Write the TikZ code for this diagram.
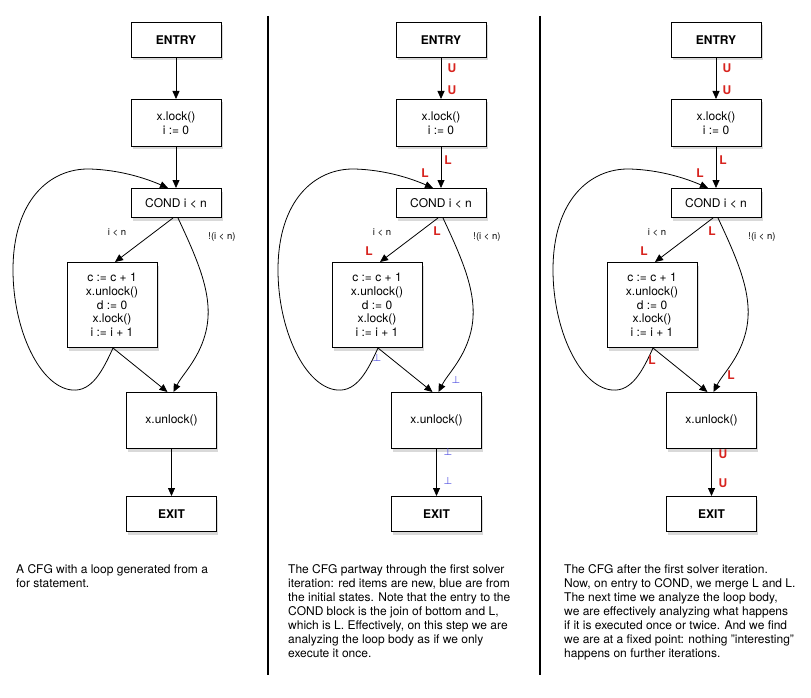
\documentclass[tikz,border=0pt]{standalone}
\usepackage{fontspec}
\setmainfont{TeX Gyre Heros}
\newfontfamily\symfont{DejaVu Sans}
\usetikzlibrary{arrows.meta,positioning,shadows}
\definecolor{labred}{RGB}{215,35,30}
\definecolor{labblue}{RGB}{80,80,225}

\begin{document}
\begin{tikzpicture}[
    x=1pt, y=1pt,
    box/.style={draw, line width=1pt, fill=white, align=center, minimum width=90pt, inner sep=2pt,
      font=\fontsize{12}{13.7}\selectfont,
      drop shadow={shadow xshift=1.5pt, shadow yshift=-3pt, opacity=0.3}},
    term/.style={box, font=\fontsize{12}{14}\selectfont\bfseries},
    line/.style={-{Triangle[length=8pt,width=7pt]}, line width=0.8pt},
    guard/.style={font=\fontsize{9.5}{10}\selectfont, inner sep=0pt},
    redlab/.style={text=labred, font=\fontsize{12}{12}\selectfont\bfseries, inner sep=0pt},
    bluelab/.style={text=labblue, font=\symfont\fontsize{10}{12}\selectfont, inner sep=0pt},
    captext/.style={align=left, anchor=north west, inner sep=0pt, font=\fontsize{12}{14}\selectfont}
]
\useasboundingbox (0,0) rectangle (811,-698);

% the same CFG in each of the three panels
\foreach \p/\dx in {a/0,b/265,c/540}{
\begin{scope}[xshift=\dx, name prefix=\p-]
\node[term, minimum height=35pt] (entry) at (176,-40) {ENTRY};
\node[box, minimum height=47pt, below=41pt of entry] (lock) {x.lock()\\i := 0};
\node[box, minimum height=29pt, below=41pt of lock] (cond) {COND i < n};
\node[box, minimum height=85pt, below=44pt of cond, xshift=-64pt] (body) {c := c + 1\\x.unlock()\\d := 0\\x.lock()\\i := i + 1};
\node[box, minimum height=56pt, below=44pt of body, xshift=59.5pt] (unlock) {x.unlock()};
\node[term, minimum height=35pt, below=47pt of unlock] (exit) {EXIT};

\draw[line] (entry) -- (lock);
\draw[line] (lock) -- (cond);
\draw[line] ([xshift=-3pt]cond.south) -- ([xshift=3pt]body.north);
\draw[line] ([xshift=2pt]cond.south) .. controls (200,-265) and (215,-300) .. (205,-335)
    .. controls (198,-360) and (182,-375) .. ([xshift=2pt]unlock.north);
\draw[line] ([xshift=1pt]body.south) -- ([xshift=-4pt]unlock.north);
\draw[line] ([xshift=1pt]body.south) .. controls (103,-370) and (92,-392) .. (72,-390)
    .. controls (40,-387) and (13,-330) .. (13,-270)
    .. controls (13,-200) and (50,-168) .. (90,-169)
    .. controls (120,-170) and (145,-178) .. ([xshift=-8pt]cond.north);
\draw[line] (unlock) -- (exit);

\node[guard] (lt) at (117,-232) {i < n};
\node[guard] (nlt) at (222,-237) {!(i < n)};
\end{scope}
}

% panel separators
\draw[line width=2pt] (268,-16) -- (268,-675);
\draw[line width=2pt] (540,-16) -- (540,-675);

% states after part of the first iteration
\begin{scope}[xshift=265, name prefix=b-]
\node[redlab] (u-out) at (187,-68) {U};
\node[redlab] (u-in) at (187,-90) {U};
\node[redlab] (l-lock) at (183,-160) {L};
\node[redlab] (l-back) at (160,-173) {L};
\node[redlab] (l-true) at (172,-231) {L};
\node[redlab] (l-body) at (104,-251) {L};
\node[bluelab] (s-body) at (112,-358) {⊥};
\node[bluelab] (s-false) at (191,-380) {⊥};
\node[bluelab] (s-out) at (183,-452) {⊥};
\node[bluelab] (s-exit) at (183,-481) {⊥};
\end{scope}

% states after the first iteration
\begin{scope}[xshift=540, name prefix=c-]
\node[redlab] (u-out) at (187,-68) {U};
\node[redlab] (u-in) at (187,-90) {U};
\node[redlab] (l-lock) at (183,-160) {L};
\node[redlab] (l-back) at (160,-173) {L};
\node[redlab] (l-true) at (172,-231) {L};
\node[redlab] (l-body) at (104,-251) {L};
\node[redlab] (s-body) at (112,-360) {L};
\node[redlab] (s-false) at (191,-375) {L};
\node[redlab] (s-out) at (183,-454) {U};
\node[redlab] (s-exit) at (183,-483) {U};
\end{scope}

\node[captext] (capa) at (16,-564) {A CFG with a loop generated from a\\for statement.};
\node[captext] (capb) at (288,-564) {The CFG partway through the first solver\\iteration: red items are new, blue are from\\the initial states. Note that the entry to the\\COND block is the join of bottom and L,\\which is L. Effectively, on this step we are\\analyzing the loop body as if we only\\execute it once.};
\node[captext] (capc) at (564,-564) {The CFG after the first solver iteration.\\Now, on entry to COND, we merge L and L.\\The next time we analyze the loop body,\\we are effectively analyzing what happens\\if it is executed once or twice. And we find\\we are at a fixed point: nothing "interesting"\\happens on further iterations.};
\end{tikzpicture}
\end{document}
